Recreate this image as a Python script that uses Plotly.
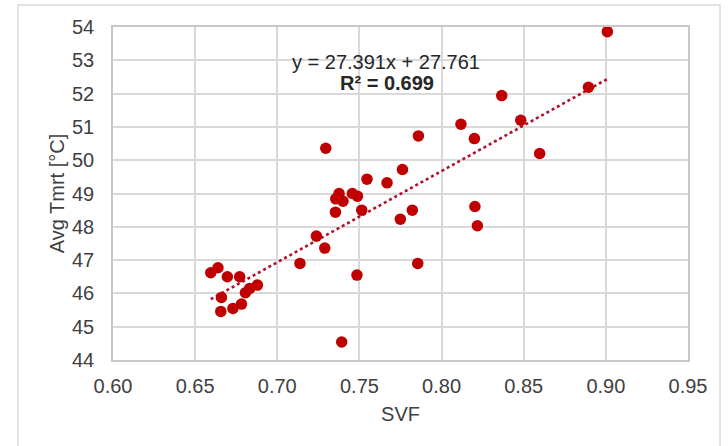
import plotly.graph_objects as go

# ---- data ----
svf = [0.6595, 0.6639, 0.6696, 0.6771, 0.6660, 0.6656, 0.6730, 0.6782, 0.6806, 0.6832,
       0.6879, 0.7138, 0.7295, 0.7546, 0.7668, 0.7762, 0.7376, 0.7356, 0.7400, 0.7457,
       0.7488, 0.7354, 0.7514, 0.7749, 0.7822, 0.7238, 0.7289, 0.7855, 0.7485, 0.7392,
       0.8366, 0.8118, 0.8200, 0.7859, 0.8482, 0.8597, 0.8203, 0.8218, 0.9009, 0.8894]
tmrt = [46.62, 46.77, 46.50, 46.50, 45.88, 45.46, 45.55, 45.68, 46.02, 46.15,
        46.25, 46.90, 50.36, 49.43, 49.32, 49.72, 49.00, 48.84, 48.77, 49.00,
        48.92, 48.44, 48.50, 48.23, 48.50, 47.72, 47.36, 46.90, 46.55, 44.54,
        51.94, 51.08, 50.65, 50.73, 51.20, 50.20, 48.61, 48.03, 53.86, 52.19]

slope = 27.391
intercept = 27.761
r_squared = 0.699

x_ticks = [0.60, 0.65, 0.70, 0.75, 0.80, 0.85, 0.90, 0.95]
y_ticks = [44, 45, 46, 47, 48, 49, 50, 51, 52, 53, 54]

FONT = "Arial, Liberation Sans, sans-serif"
RED = "#c00000"

x_line = [min(svf), max(svf)]
y_line = [slope * v + intercept for v in x_line]

fig = go.Figure()
fig.add_trace(go.Scatter(
    x=x_line, y=y_line, mode="lines",
    line=dict(color="#b0102a", width=2.6, dash="dot"),
    hoverinfo="skip", showlegend=False))
fig.add_trace(go.Scatter(
    x=svf, y=tmrt, mode="markers",
    marker=dict(color=RED, size=11.5, line=dict(width=0)),
    showlegend=False))

fig.update_layout(
    width=728, height=446,
    margin=dict(l=113, r=40, t=27, b=86),
    paper_bgcolor="white", plot_bgcolor="white",
    font=dict(family=FONT, size=20, color="#404040"),
    xaxis=dict(
        range=[0.60, 0.95], tickvals=x_ticks,
        ticktext=[f"{v:.2f}" for v in x_ticks],
        showgrid=True, gridcolor="#d9d9d9", gridwidth=1.5,
        showline=True, linecolor="#c8c8c8", linewidth=1.5, mirror=True,
        zeroline=False, ticks="", ticklabelstandoff=7, automargin=False,
        title=dict(text="SVF", font=dict(size=20, color="#404040"), standoff=11),
    ),
    yaxis=dict(
        range=[44, 54], tickvals=y_ticks,
        showgrid=True, gridcolor="#d9d9d9", gridwidth=1.5,
        showline=True, linecolor="#c8c8c8", linewidth=1.5, mirror=True,
        zeroline=False, ticks="", ticklabelstandoff=13, automargin=False,
        title=dict(text="Avg Tmrt [°C]", font=dict(size=20, color="#404040"), standoff=2),
    ),
    shapes=[dict(type="rect", xref="paper", yref="paper",
                 x0=-0.1652, x1=1.0557, y0=-0.30, y1=1.066,
                 line=dict(color="#d9d9d9", width=1.5), layer="below")],
    annotations=[
        dict(text=f"y = {slope:.3f}x + {intercept:.3f}", xref="paper", yref="paper",
             x=0.474, y=0.896, showarrow=False, xanchor="center", yanchor="middle",
             font=dict(size=20, color="#262626", family=FONT)),
        dict(text=f"<b>R² = {r_squared:.3f}</b>", xref="paper", yref="paper",
             x=0.476, y=0.831, showarrow=False, xanchor="center", yanchor="middle",
             font=dict(size=20, color="#262626", family=FONT)),
    ],
)

fig.write_html("out.html", config={"displayModeBar": False},
               post_script="document.body.style.margin='0';")
